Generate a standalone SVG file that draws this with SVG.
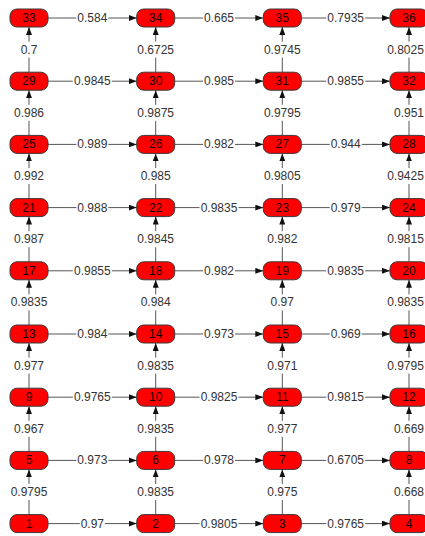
<svg xmlns="http://www.w3.org/2000/svg" width="425" height="536" viewBox="0 0 425 536">
<style>
.n rect{fill:#ff0000;stroke:#3a3a3a;stroke-width:1}
.n text{font-family:"Liberation Sans",Arial,sans-serif;font-size:12px;fill:#1a0000;text-anchor:middle}
.e line{stroke:#555;stroke-width:1;marker-end:url(#ah)}
.l rect{fill:#fff}
.l text{font-family:"Liberation Sans",Arial,sans-serif;font-size:12px;fill:#333;text-anchor:middle}
</style>
<defs>
<marker id="ah" markerUnits="userSpaceOnUse" markerWidth="8" markerHeight="6" refX="8" refY="3" orient="auto"><path d="M0,0 L8,3 L0,6 z" fill="#111"/></marker>
</defs>
<g id="connectors">
<g class="e">
<line x1="48" y1="18" x2="136.7" y2="18"/><line x1="174.7" y1="18" x2="263.3" y2="18"/><line x1="301.3" y1="18" x2="390" y2="18"/>
<line x1="48" y1="81.2" x2="136.7" y2="81.2"/><line x1="174.7" y1="81.2" x2="263.3" y2="81.2"/><line x1="301.3" y1="81.2" x2="390" y2="81.2"/>
<line x1="48" y1="144.4" x2="136.7" y2="144.4"/><line x1="174.7" y1="144.4" x2="263.3" y2="144.4"/><line x1="301.3" y1="144.4" x2="390" y2="144.4"/>
<line x1="48" y1="207.6" x2="136.7" y2="207.6"/><line x1="174.7" y1="207.6" x2="263.3" y2="207.6"/><line x1="301.3" y1="207.6" x2="390" y2="207.6"/>
<line x1="48" y1="270.8" x2="136.7" y2="270.8"/><line x1="174.7" y1="270.8" x2="263.3" y2="270.8"/><line x1="301.3" y1="270.8" x2="390" y2="270.8"/>
<line x1="48" y1="334" x2="136.7" y2="334"/><line x1="174.7" y1="334" x2="263.3" y2="334"/><line x1="301.3" y1="334" x2="390" y2="334"/>
<line x1="48" y1="397.2" x2="136.7" y2="397.2"/><line x1="174.7" y1="397.2" x2="263.3" y2="397.2"/><line x1="301.3" y1="397.2" x2="390" y2="397.2"/>
<line x1="48" y1="460.4" x2="136.7" y2="460.4"/><line x1="174.7" y1="460.4" x2="263.3" y2="460.4"/><line x1="301.3" y1="460.4" x2="390" y2="460.4"/>
<line x1="48" y1="523.6" x2="136.7" y2="523.6"/><line x1="174.7" y1="523.6" x2="263.3" y2="523.6"/><line x1="301.3" y1="523.6" x2="390" y2="523.6"/>
<line x1="29" y1="72.2" x2="29" y2="27"/><line x1="155.7" y1="72.2" x2="155.7" y2="27"/><line x1="282.3" y1="72.2" x2="282.3" y2="27"/><line x1="409" y1="72.2" x2="409" y2="27"/>
<line x1="29" y1="135.4" x2="29" y2="90.2"/><line x1="155.7" y1="135.4" x2="155.7" y2="90.2"/><line x1="282.3" y1="135.4" x2="282.3" y2="90.2"/><line x1="409" y1="135.4" x2="409" y2="90.2"/>
<line x1="29" y1="198.6" x2="29" y2="153.4"/><line x1="155.7" y1="198.6" x2="155.7" y2="153.4"/><line x1="282.3" y1="198.6" x2="282.3" y2="153.4"/><line x1="409" y1="198.6" x2="409" y2="153.4"/>
<line x1="29" y1="261.8" x2="29" y2="216.6"/><line x1="155.7" y1="261.8" x2="155.7" y2="216.6"/><line x1="282.3" y1="261.8" x2="282.3" y2="216.6"/><line x1="409" y1="261.8" x2="409" y2="216.6"/>
<line x1="29" y1="325" x2="29" y2="279.8"/><line x1="155.7" y1="325" x2="155.7" y2="279.8"/><line x1="282.3" y1="325" x2="282.3" y2="279.8"/><line x1="409" y1="325" x2="409" y2="279.8"/>
<line x1="29" y1="388.2" x2="29" y2="343"/><line x1="155.7" y1="388.2" x2="155.7" y2="343"/><line x1="282.3" y1="388.2" x2="282.3" y2="343"/><line x1="409" y1="388.2" x2="409" y2="343"/>
<line x1="29" y1="451.4" x2="29" y2="406.2"/><line x1="155.7" y1="451.4" x2="155.7" y2="406.2"/><line x1="282.3" y1="451.4" x2="282.3" y2="406.2"/><line x1="409" y1="451.4" x2="409" y2="406.2"/>
<line x1="29" y1="514.6" x2="29" y2="469.4"/><line x1="155.7" y1="514.6" x2="155.7" y2="469.4"/><line x1="282.3" y1="514.6" x2="282.3" y2="469.4"/><line x1="409" y1="514.6" x2="409" y2="469.4"/>
</g>
<g class="l">
<rect x="76.3" y="10" width="32" height="16"/><text x="92.35" y="22">0.584</text>
<rect x="203" y="10" width="32" height="16"/><text x="219" y="22">0.665</text>
<rect x="326.2" y="10" width="39" height="16"/><text x="345.65" y="22">0.7935</text>
<rect x="72.8" y="73.2" width="39" height="16"/><text x="92.35" y="85.2">0.9845</text>
<rect x="203" y="73.2" width="32" height="16"/><text x="219" y="85.2">0.985</text>
<rect x="326.2" y="73.2" width="39" height="16"/><text x="345.65" y="85.2">0.9855</text>
<rect x="76.3" y="136.4" width="32" height="16"/><text x="92.35" y="148.4">0.989</text>
<rect x="203" y="136.4" width="32" height="16"/><text x="219" y="148.4">0.982</text>
<rect x="329.7" y="136.4" width="32" height="16"/><text x="345.65" y="148.4">0.944</text>
<rect x="76.3" y="199.6" width="32" height="16"/><text x="92.35" y="211.6">0.988</text>
<rect x="199.5" y="199.6" width="39" height="16"/><text x="219" y="211.6">0.9835</text>
<rect x="329.7" y="199.6" width="32" height="16"/><text x="345.65" y="211.6">0.979</text>
<rect x="72.8" y="262.8" width="39" height="16"/><text x="92.35" y="274.8">0.9855</text>
<rect x="203" y="262.8" width="32" height="16"/><text x="219" y="274.8">0.982</text>
<rect x="326.2" y="262.8" width="39" height="16"/><text x="345.65" y="274.8">0.9835</text>
<rect x="76.3" y="326" width="32" height="16"/><text x="92.35" y="338">0.984</text>
<rect x="203" y="326" width="32" height="16"/><text x="219" y="338">0.973</text>
<rect x="329.7" y="326" width="32" height="16"/><text x="345.65" y="338">0.969</text>
<rect x="72.8" y="389.2" width="39" height="16"/><text x="92.35" y="401.2">0.9765</text>
<rect x="199.5" y="389.2" width="39" height="16"/><text x="219" y="401.2">0.9825</text>
<rect x="326.2" y="389.2" width="39" height="16"/><text x="345.65" y="401.2">0.9815</text>
<rect x="76.3" y="452.4" width="32" height="16"/><text x="92.35" y="464.4">0.973</text>
<rect x="203" y="452.4" width="32" height="16"/><text x="219" y="464.4">0.978</text>
<rect x="326.2" y="452.4" width="39" height="16"/><text x="345.65" y="464.4">0.6705</text>
<rect x="79.8" y="515.6" width="25" height="16"/><text x="92.35" y="527.6">0.97</text>
<rect x="199.5" y="515.6" width="39" height="16"/><text x="219" y="527.6">0.9805</text>
<rect x="326.2" y="515.6" width="39" height="16"/><text x="345.65" y="527.6">0.9765</text>
<rect x="19.5" y="41.6" width="19" height="16"/><text x="29" y="53.6">0.7</text>
<rect x="136.2" y="41.6" width="39" height="16"/><text x="155.7" y="53.6">0.6725</text>
<rect x="262.8" y="41.6" width="39" height="16"/><text x="282.3" y="53.6">0.9745</text>
<rect x="386" y="41.6" width="39" height="16"/><text x="405.5" y="53.6">0.8025</text>
<rect x="13" y="104.8" width="32" height="16"/><text x="29" y="116.8">0.986</text>
<rect x="136.2" y="104.8" width="39" height="16"/><text x="155.7" y="116.8">0.9875</text>
<rect x="262.8" y="104.8" width="39" height="16"/><text x="282.3" y="116.8">0.9795</text>
<rect x="393" y="104.8" width="32" height="16"/><text x="409" y="116.8">0.951</text>
<rect x="13" y="168" width="32" height="16"/><text x="29" y="180">0.992</text>
<rect x="139.7" y="168" width="32" height="16"/><text x="155.7" y="180">0.985</text>
<rect x="262.8" y="168" width="39" height="16"/><text x="282.3" y="180">0.9805</text>
<rect x="386" y="168" width="39" height="16"/><text x="405.5" y="180">0.9425</text>
<rect x="13" y="231.2" width="32" height="16"/><text x="29" y="243.2">0.987</text>
<rect x="136.2" y="231.2" width="39" height="16"/><text x="155.7" y="243.2">0.9845</text>
<rect x="266.3" y="231.2" width="32" height="16"/><text x="282.3" y="243.2">0.982</text>
<rect x="386" y="231.2" width="39" height="16"/><text x="405.5" y="243.2">0.9815</text>
<rect x="9.5" y="294.4" width="39" height="16"/><text x="29" y="306.4">0.9835</text>
<rect x="139.7" y="294.4" width="32" height="16"/><text x="155.7" y="306.4">0.984</text>
<rect x="269.8" y="294.4" width="25" height="16"/><text x="282.3" y="306.4">0.97</text>
<rect x="386" y="294.4" width="39" height="16"/><text x="405.5" y="306.4">0.9835</text>
<rect x="13" y="357.6" width="32" height="16"/><text x="29" y="369.6">0.977</text>
<rect x="136.2" y="357.6" width="39" height="16"/><text x="155.7" y="369.6">0.9835</text>
<rect x="266.3" y="357.6" width="32" height="16"/><text x="282.3" y="369.6">0.971</text>
<rect x="386" y="357.6" width="39" height="16"/><text x="405.5" y="369.6">0.9795</text>
<rect x="13" y="420.8" width="32" height="16"/><text x="29" y="432.8">0.967</text>
<rect x="136.2" y="420.8" width="39" height="16"/><text x="155.7" y="432.8">0.9835</text>
<rect x="266.3" y="420.8" width="32" height="16"/><text x="282.3" y="432.8">0.977</text>
<rect x="393" y="420.8" width="32" height="16"/><text x="409" y="432.8">0.669</text>
<rect x="9.5" y="484" width="39" height="16"/><text x="29" y="496">0.9795</text>
<rect x="136.2" y="484" width="39" height="16"/><text x="155.7" y="496">0.9835</text>
<rect x="266.3" y="484" width="32" height="16"/><text x="282.3" y="496">0.975</text>
<rect x="393" y="484" width="32" height="16"/><text x="409" y="496">0.668</text>
</g>
</g>
<g id="n33" class="n"><rect x="10" y="9" width="38" height="18" rx="7"/><text x="29" y="22">33</text></g>
<g id="n34" class="n"><rect x="136.7" y="9" width="38" height="18" rx="7"/><text x="155.7" y="22">34</text></g>
<g id="n35" class="n"><rect x="263.3" y="9" width="38" height="18" rx="7"/><text x="282.3" y="22">35</text></g>
<g id="n36" class="n"><rect x="390" y="9" width="38" height="18" rx="7"/><text x="409" y="22">36</text></g>
<g id="n29" class="n"><rect x="10" y="72.2" width="38" height="18" rx="7"/><text x="29" y="85.2">29</text></g>
<g id="n30" class="n"><rect x="136.7" y="72.2" width="38" height="18" rx="7"/><text x="155.7" y="85.2">30</text></g>
<g id="n31" class="n"><rect x="263.3" y="72.2" width="38" height="18" rx="7"/><text x="282.3" y="85.2">31</text></g>
<g id="n32" class="n"><rect x="390" y="72.2" width="38" height="18" rx="7"/><text x="409" y="85.2">32</text></g>
<g id="n25" class="n"><rect x="10" y="135.4" width="38" height="18" rx="7"/><text x="29" y="148.4">25</text></g>
<g id="n26" class="n"><rect x="136.7" y="135.4" width="38" height="18" rx="7"/><text x="155.7" y="148.4">26</text></g>
<g id="n27" class="n"><rect x="263.3" y="135.4" width="38" height="18" rx="7"/><text x="282.3" y="148.4">27</text></g>
<g id="n28" class="n"><rect x="390" y="135.4" width="38" height="18" rx="7"/><text x="409" y="148.4">28</text></g>
<g id="n21" class="n"><rect x="10" y="198.6" width="38" height="18" rx="7"/><text x="29" y="211.6">21</text></g>
<g id="n22" class="n"><rect x="136.7" y="198.6" width="38" height="18" rx="7"/><text x="155.7" y="211.6">22</text></g>
<g id="n23" class="n"><rect x="263.3" y="198.6" width="38" height="18" rx="7"/><text x="282.3" y="211.6">23</text></g>
<g id="n24" class="n"><rect x="390" y="198.6" width="38" height="18" rx="7"/><text x="409" y="211.6">24</text></g>
<g id="n17" class="n"><rect x="10" y="261.8" width="38" height="18" rx="7"/><text x="29" y="274.8">17</text></g>
<g id="n18" class="n"><rect x="136.7" y="261.8" width="38" height="18" rx="7"/><text x="155.7" y="274.8">18</text></g>
<g id="n19" class="n"><rect x="263.3" y="261.8" width="38" height="18" rx="7"/><text x="282.3" y="274.8">19</text></g>
<g id="n20" class="n"><rect x="390" y="261.8" width="38" height="18" rx="7"/><text x="409" y="274.8">20</text></g>
<g id="n13" class="n"><rect x="10" y="325" width="38" height="18" rx="7"/><text x="29" y="338">13</text></g>
<g id="n14" class="n"><rect x="136.7" y="325" width="38" height="18" rx="7"/><text x="155.7" y="338">14</text></g>
<g id="n15" class="n"><rect x="263.3" y="325" width="38" height="18" rx="7"/><text x="282.3" y="338">15</text></g>
<g id="n16" class="n"><rect x="390" y="325" width="38" height="18" rx="7"/><text x="409" y="338">16</text></g>
<g id="n9" class="n"><rect x="10" y="388.2" width="38" height="18" rx="7"/><text x="29" y="401.2">9</text></g>
<g id="n10" class="n"><rect x="136.7" y="388.2" width="38" height="18" rx="7"/><text x="155.7" y="401.2">10</text></g>
<g id="n11" class="n"><rect x="263.3" y="388.2" width="38" height="18" rx="7"/><text x="282.3" y="401.2">11</text></g>
<g id="n12" class="n"><rect x="390" y="388.2" width="38" height="18" rx="7"/><text x="409" y="401.2">12</text></g>
<g id="n5" class="n"><rect x="10" y="451.4" width="38" height="18" rx="7"/><text x="29" y="464.4">5</text></g>
<g id="n6" class="n"><rect x="136.7" y="451.4" width="38" height="18" rx="7"/><text x="155.7" y="464.4">6</text></g>
<g id="n7" class="n"><rect x="263.3" y="451.4" width="38" height="18" rx="7"/><text x="282.3" y="464.4">7</text></g>
<g id="n8" class="n"><rect x="390" y="451.4" width="38" height="18" rx="7"/><text x="409" y="464.4">8</text></g>
<g id="n1" class="n"><rect x="10" y="514.6" width="38" height="18" rx="7"/><text x="29" y="527.6">1</text></g>
<g id="n2" class="n"><rect x="136.7" y="514.6" width="38" height="18" rx="7"/><text x="155.7" y="527.6">2</text></g>
<g id="n3" class="n"><rect x="263.3" y="514.6" width="38" height="18" rx="7"/><text x="282.3" y="527.6">3</text></g>
<g id="n4" class="n"><rect x="390" y="514.6" width="38" height="18" rx="7"/><text x="409" y="527.6">4</text></g>
</svg>
